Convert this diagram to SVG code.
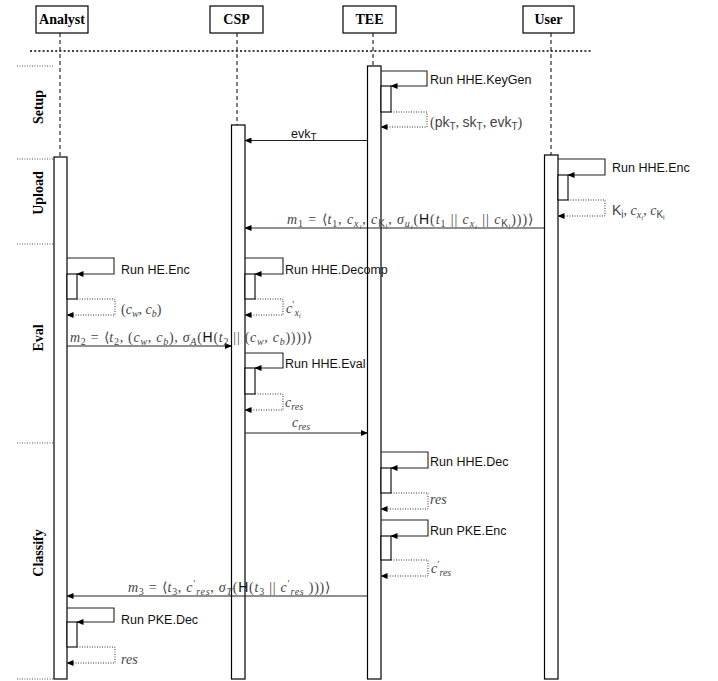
<svg xmlns="http://www.w3.org/2000/svg" width="718" height="681" viewBox="0 0 718 681">
<style>
.actor rect{fill:#fff;stroke:#000;stroke-width:1.2}
.actor text{font-family:"Liberation Serif",serif;font-weight:bold;font-size:14px;text-anchor:middle;fill:#000}
.life{stroke:#000;stroke-width:1;stroke-dasharray:4,3;fill:none}
.bar{fill:#fff;stroke:#000;stroke-width:1.1}
.sep{stroke:#555;stroke-width:1;stroke-dasharray:1,1.5;fill:none}
.sec{font-family:"Liberation Serif",serif;font-weight:bold;font-size:14px;text-anchor:middle;fill:#000}
.msg{stroke:#222;stroke-width:1.1;fill:none}
.ret{stroke:#333;stroke-width:1;stroke-dasharray:1,1.5;fill:none}
.run{font-family:"Liberation Sans",Arial,sans-serif;font-size:12.5px;fill:#111}
.math{font-family:"Liberation Serif",serif;font-size:14px;fill:#444}
.it{font-style:italic}
.sf{font-family:"Liberation Sans",Arial,sans-serif}
.s{font-size:10px}
.ss{font-size:7px}
</style>
<defs>
<marker id="ah" markerWidth="7" markerHeight="6" refX="6.5" refY="3" orient="auto" markerUnits="userSpaceOnUse">
<path d="M0,0 L7,3 L0,6 z" fill="#000"/>
</marker>
</defs>

<line x1="30" y1="51" x2="591" y2="51" stroke="#000" stroke-width="1.3" stroke-dasharray="2,2.2"/>

<g id="sections">
<path class="sep" d="M17,66 H53 M17,159 H53 M17,244 H53 M17,443 H53 M17,679 H53"/>
<text class="sec" transform="translate(43,107) rotate(-90)">Setup</text>
<text class="sec" transform="translate(43,193) rotate(-90)">Upload</text>
<text class="sec" transform="translate(43,338) rotate(-90)">Eval</text>
<text class="sec" transform="translate(43,553) rotate(-90)">Classify</text>
</g>

<g id="lifelines">
<line class="life" x1="60" y1="33" x2="60" y2="157"/>
<line class="life" x1="237" y1="33" x2="237" y2="125"/>
<line class="life" x1="373" y1="33" x2="373" y2="66"/>
<line class="life" x1="551" y1="33" x2="551" y2="155"/>
</g>

<g id="Analyst" class="actor">
<rect x="36" y="6" width="52" height="27"/>
<text x="62" y="24">Analyst</text>
<rect class="bar" x="54" y="157" width="13" height="522"/>
</g>
<g id="CSP" class="actor">
<rect x="210" y="6" width="53" height="27"/>
<text x="236.5" y="24">CSP</text>
<rect class="bar" x="231.5" y="125" width="13.5" height="554"/>
</g>
<g id="TEE" class="actor">
<rect x="343" y="6" width="53" height="27"/>
<text x="369.5" y="24">TEE</text>
<rect class="bar" x="367.5" y="66" width="13.5" height="613"/>
</g>
<g id="User" class="actor">
<rect x="523" y="6" width="51" height="27"/>
<text x="548.5" y="24">User</text>
<rect class="bar" x="544.5" y="155" width="13.5" height="524"/>
</g>

<g id="connectors">
<path class="msg" d="M381,71 H427 V86 H391" marker-end="url(#ah)"/>
<rect class="bar" x="381" y="86" width="10" height="26"/>
<path class="ret" d="M391,112 H427 V127 H381" marker-end="url(#ah)"/>
<line class="msg" x1="367.5" y1="140.5" x2="245" y2="140.5" marker-end="url(#ah)"/>
<path class="msg" d="M558,159 H605 V175 H568" marker-end="url(#ah)"/>
<rect class="bar" x="558" y="175" width="10" height="25"/>
<path class="ret" d="M568,200 H605 V216 H558" marker-end="url(#ah)"/>
<line class="msg" x1="544.5" y1="228" x2="245" y2="228" marker-end="url(#ah)"/>
<path class="msg" d="M67,258 H114 V274 H77" marker-end="url(#ah)"/>
<rect class="bar" x="67" y="274" width="10" height="25"/>
<path class="ret" d="M77,299 H115 V315 H67" marker-end="url(#ah)"/>
<path class="msg" d="M245,258 H283 V274 H255" marker-end="url(#ah)"/>
<rect class="bar" x="245" y="274" width="10" height="25"/>
<path class="ret" d="M255,299 H283 V315 H245" marker-end="url(#ah)"/>
<line class="msg" x1="67" y1="346" x2="231.5" y2="346" marker-end="url(#ah)"/>
<path class="msg" d="M245,353 H283 V368 H255" marker-end="url(#ah)"/>
<rect class="bar" x="245" y="368" width="10" height="26"/>
<path class="ret" d="M255,394 H283 V410 H245" marker-end="url(#ah)"/>
<line class="msg" x1="245" y1="433" x2="367.5" y2="433" marker-end="url(#ah)"/>
<path class="msg" d="M381,452 H428 V468 H391" marker-end="url(#ah)"/>
<rect class="bar" x="381" y="468" width="10" height="25"/>
<path class="ret" d="M391,493 H428 V509 H381" marker-end="url(#ah)"/>
<path class="msg" d="M381,520 H428 V536 H391" marker-end="url(#ah)"/>
<rect class="bar" x="381" y="536" width="10" height="24"/>
<path class="ret" d="M391,560 H428 V576 H381" marker-end="url(#ah)"/>
<line class="msg" x1="367.5" y1="596" x2="67" y2="596" marker-end="url(#ah)"/>
<path class="msg" d="M67,608 H114 V622 H77" marker-end="url(#ah)"/>
<rect class="bar" x="67" y="622" width="10" height="25"/>
<path class="ret" d="M77,647 H115 V663 H67" marker-end="url(#ah)"/>
</g>

<g id="labels">
<text class="run" x="430" y="84">Run HHE.KeyGen</text>
<text class="math" x="430" y="127">(<tspan class="sf">pk</tspan><tspan class="sf s" baseline-shift="-3">T</tspan>, <tspan class="sf">sk</tspan><tspan class="sf s" baseline-shift="-3">T</tspan>, <tspan class="sf">evk</tspan><tspan class="sf s" baseline-shift="-3">T</tspan>)</text>
<text class="run" x="291" y="138" fill="#000" font-size="13">evk<tspan class="s" baseline-shift="-3">T</tspan></text>
<text class="run" x="612" y="172">Run HHE.Enc</text>
<text class="math" x="612" y="215"><tspan class="sf">K</tspan><tspan class="sf s" baseline-shift="-3">i</tspan>,  <tspan class="it">c</tspan><tspan class="it s" baseline-shift="-3">x</tspan><tspan class="it ss" baseline-shift="-5">i</tspan>,  <tspan class="it">c</tspan><tspan class="sf s" baseline-shift="-3">K</tspan><tspan class="sf ss" baseline-shift="-5">i</tspan></text>
<text class="math" x="287" y="224" textLength="246" lengthAdjust="spacing"><tspan class="it">m</tspan><tspan class="s" baseline-shift="-3">1</tspan> =  ⟨<tspan class="it">t</tspan><tspan class="s" baseline-shift="-3">1</tspan>, <tspan class="it">c</tspan><tspan class="it s" baseline-shift="-3">x</tspan><tspan class="it ss" baseline-shift="-5">i</tspan>,  <tspan class="it">c</tspan><tspan class="sf s" baseline-shift="-3">K</tspan><tspan class="sf ss" baseline-shift="-5">i</tspan>,  <tspan class="it">σ</tspan><tspan class="it s" baseline-shift="-3">u</tspan><tspan class="it ss" baseline-shift="-5">i</tspan>(<tspan class="sf" fill="#111">H</tspan>(<tspan class="it">t</tspan><tspan class="s" baseline-shift="-3">1</tspan> || <tspan class="it">c</tspan><tspan class="it s" baseline-shift="-3">x</tspan><tspan class="it ss" baseline-shift="-5">i</tspan> || <tspan class="it">c</tspan><tspan class="sf s" baseline-shift="-3">K</tspan><tspan class="sf ss" baseline-shift="-5">i</tspan>)))⟩</text>
<text class="run" x="121" y="274">Run HE.Enc</text>
<text class="math" x="121" y="314">(<tspan class="it">c</tspan><tspan class="it s" baseline-shift="-3">w</tspan>, <tspan class="it">c</tspan><tspan class="it s" baseline-shift="-3">b</tspan>)</text>
<text class="run" x="285" y="274">Run HHE.Decomp</text>
<text class="math" x="286" y="313"><tspan class="it">c</tspan><tspan class="s" baseline-shift="5">′</tspan><tspan class="it s" baseline-shift="-3">x</tspan><tspan class="it ss" baseline-shift="-5">i</tspan></text>
<text class="math" x="70" y="342" textLength="242" lengthAdjust="spacing"><tspan class="it">m</tspan><tspan class="s" baseline-shift="-3">2</tspan> =  ⟨<tspan class="it">t</tspan><tspan class="s" baseline-shift="-3">2</tspan>,  (<tspan class="it">c</tspan><tspan class="it s" baseline-shift="-3">w</tspan>, <tspan class="it">c</tspan><tspan class="it s" baseline-shift="-3">b</tspan>),  <tspan class="it">σ</tspan><tspan class="it s" baseline-shift="-3">A</tspan>(<tspan class="sf" fill="#111">H</tspan>(<tspan class="it">t</tspan><tspan class="s" baseline-shift="-3">2</tspan> || (<tspan class="it">c</tspan><tspan class="it s" baseline-shift="-3">w</tspan>, <tspan class="it">c</tspan><tspan class="it s" baseline-shift="-3">b</tspan>))))⟩</text>
<text class="run" x="285" y="368">Run HHE.Eval</text>
<text class="math" x="285" y="407"><tspan class="it">c</tspan><tspan class="it s" baseline-shift="-3">res</tspan></text>
<text class="math" x="292" y="427"><tspan class="it">c</tspan><tspan class="it s" baseline-shift="-3">res</tspan></text>
<text class="run" x="430" y="466">Run HHE.Dec</text>
<text class="math it" x="430" y="504">res</text>
<text class="run" x="430" y="535">Run PKE.Enc</text>
<text class="math" x="431" y="573"><tspan class="it">c</tspan><tspan class="s" baseline-shift="5">′</tspan><tspan class="it s" baseline-shift="-3">res</tspan></text>
<text class="math" x="128" y="592" textLength="202" lengthAdjust="spacing"><tspan class="it">m</tspan><tspan class="s" baseline-shift="-3">3</tspan> =  ⟨<tspan class="it">t</tspan><tspan class="s" baseline-shift="-3">3</tspan>,  <tspan class="it">c</tspan><tspan class="s" baseline-shift="5">′</tspan><tspan class="it s" baseline-shift="-3">res</tspan>,  <tspan class="it">σ</tspan><tspan class="it s" baseline-shift="-3">T</tspan>(<tspan class="sf" fill="#111">H</tspan>(<tspan class="it">t</tspan><tspan class="s" baseline-shift="-3">3</tspan> || <tspan class="it">c</tspan><tspan class="s" baseline-shift="5">′</tspan><tspan class="it s" baseline-shift="-3">res</tspan> )))⟩</text>
<text class="run" x="121" y="624">Run PKE.Dec</text>
<text class="math it" x="121" y="664">res</text>
</g>
</svg>
